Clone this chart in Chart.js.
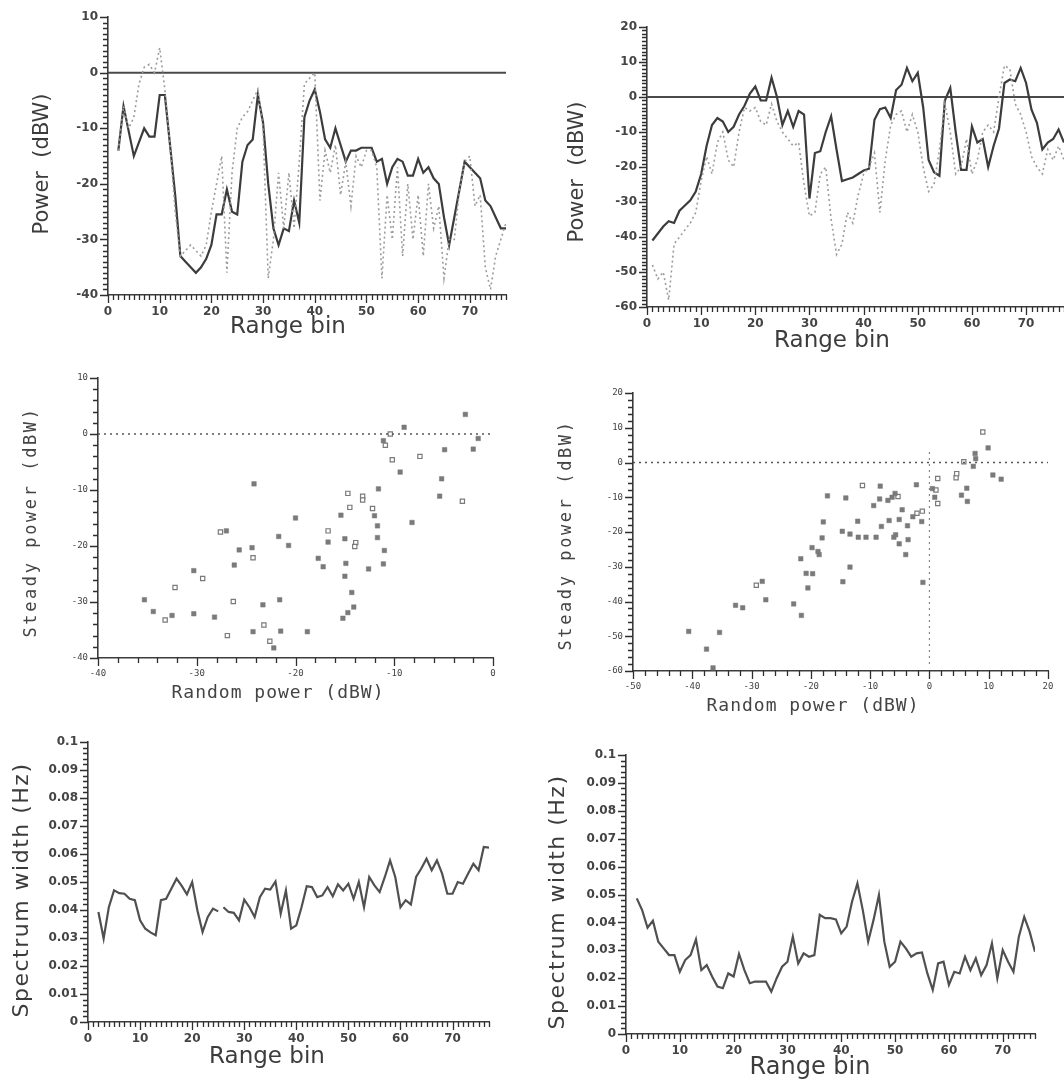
<!DOCTYPE html>
<html>
<head>
<meta charset="utf-8">
<script src="https://cdn.jsdelivr.net/npm/chart.js@4.4.1/dist/chart.umd.min.js"></script>
<style>
body { margin: 0; background: #fff; width: 1064px; height: 1088px; position: relative; overflow: hidden; }
canvas { position: absolute; }
</style>
</head>
<body>
<canvas id="c1" width="530" height="350" style="left:0px;top:0px"></canvas>
<canvas id="c2" width="546" height="362" style="left:530px;top:0px"></canvas>
<canvas id="c3" width="530" height="365" style="left:0px;top:345px"></canvas>
<canvas id="c4" width="534" height="370" style="left:530px;top:350px"></canvas>
<canvas id="c5" width="530" height="373" style="left:0px;top:715px"></canvas>
<canvas id="c6" width="534" height="356" style="left:530px;top:732px"></canvas>
<script>
let rangeBins = [1, 2, 3, 4, 5, 6, 7, 8, 9, 10, 11, 12, 13, 14, 15, 16, 17, 18, 19, 20,
  21, 22, 23, 24, 25, 26, 27, 28, 29, 30, 31, 32, 33, 34, 35, 36, 37, 38, 39, 40,
  41, 42, 43, 44, 45, 46, 47, 48, 49, 50, 51, 52, 53, 54, 55, 56, 57, 58, 59, 60,
  61, 62, 63, 64, 65, 66, 67, 68, 69, 70, 71, 72, 73, 74, 75, 76, 77];

// top left: power per range bin (dBW)
let p1Solid = [null, -14, -6, -10.5, -15, -12.5, -10, -11.5, -11.5, -4, -4, -13, -22, -33, -34, -35, -36, -35, -33.5, -31,
  -25.5, -25.5, -21, -25, -25.5, -16, -13, -12, -4, -9, -20, -28, -31, -28, -28.5, -23, -27, -8, -5, -3,
  -7, -12, -13.5, -10, -13, -16, -14, -14, -13.5, -13.5, -13.5, -16, -15.5, -20, -17, -15.5, -16, -18.5, -18.5, -15.5,
  -18, -17, -19, -20, -26, -31, -26, -21, -16, -17, -18, -19, -23, -24, -26, -28, -28];
let p1Dotted = [null, -14, -6, -10, -8, -2, 1, 1.5, 0, 4.5, -3, -13, -25, -33, -32, -31, -32, -33, -31, -25,
  -20, -15, -36, -18, -10, -8, -7, -5, -3, -10, -37, -30, -18, -28, -18, -28, -16, -2, -1, 0,
  -23, -14, -18, -13, -22, -16, -24, -15, -17, -14, -14, -17, -37, -22, -30, -17, -33, -20, -30, -22,
  -33, -20, -28, -24, -37, -30, -30, -21, -16, -15, -24, -22, -35, -39, -33, -30, -27];

// top right
let p2Solid = [-41, -39, -37, -35.5, -36, -32.5, -31, -29.5, -27, -22, -14, -8, -6, -7, -10, -8.5, -5, -2.5, 1, 3,
  -1, -1, 5.5, 0, -8, -4, -8.5, -4, -5, -29, -16, -15.5, -10, -5.5, -15, -24, -23.5, -23, -22, -21,
  -20.5, -6.5, -3.5, -3, -6, 2, 3.5, 8.3, 4.5, 6.9, -3, -18, -21.5, -22.5, -1, 2.6, -10, -20.8, -20.8, -8.4,
  -13, -12, -20, -14, -9, 4, 5, 4.5, 8.3, 4, -3.6, -7.4, -15, -13, -12, -9.3, -13];
let p2Dotted = [-48, -52, -50, -58, -42, -40, -38, -36, -33, -24, -17, -22, -13, -10, -18, -20, -10, -3, -4, -3,
  -7, -8, -2, -7, -10, -12, -14, -13, -25, -34, -33, -22, -20, -35, -45, -42, -33, -36, -28, -22,
  -20, -16, -33, -18, -8, -5, -4, -10, -5, -10, -20, -27, -25, -15, -2, -10, -22, -20, -12, -22,
  -18, -10, -8, -10, 0, 9, 8, -2, -5, -10, -17, -20, -22, -15, -18, -14, -18];

// middle left: steady vs random power
let p3FilledX = [-35.3, -34.4, -32.5, -30.3, -30.3, -28.2, -27.0, -26.2, -25.7, -24.4, -24.2, -24.3, -23.3, -22.2, -21.7, -21.6,
  -21.5, -20.7, -20.0, -18.8, -17.7, -17.2, -16.7, -15.4, -15.2, -15.0, -15.0, -14.9, -14.7, -14.3, -14.1, -12.6,
  -12.0, -11.7, -11.7, -11.6, -11.1, -11.0, -11.1, -9.4, -9.0, -8.2, -5.4, -5.2, -4.9, -2.8, -2.0, -1.5];
let p3FilledY = [-29.6, -31.7, -32.4, -24.4, -32.1, -32.7, -17.3, -23.4, -20.7, -20.3, -8.9, -35.3, -30.5, -38.2, -18.3, -29.6,
  -35.2, -19.9, -15.0, -35.3, -22.2, -23.7, -19.3, -14.5, -32.9, -18.7, -25.4, -23.1, -31.9, -28.3, -30.9, -24.1,
  -14.6, -16.4, -18.5, -9.8, -23.2, -20.8, -1.2, -6.8, 1.2, -15.8, -11.1, -8.0, -2.8, 3.5, -2.7, -0.8];
let p3OpenX = [-33.2, -32.2, -29.4, -27.6, -26.9, -26.3, -24.3, -23.2, -22.6, -16.7, -14.7, -14.5, -13.9, -14.0, -13.2, -13.2,
  -12.2, -10.9, -10.4, -10.2, -7.4, -3.1];
let p3OpenY = [-33.2, -27.4, -25.8, -17.5, -36.0, -29.9, -22.1, -34.1, -37.0, -17.3, -10.6, -13.1, -19.4, -20.1, -11.1, -11.8,
  -13.3, -2.0, 0.0, -4.6, -4.0, -12.0];

// middle right
let p4FilledX = [-40.6, -37.6, -36.5, -35.4, -32.7, -31.5, -28.2, -27.6, -22.9, -21.7, -21.6, -20.8, -20.5, -19.8, -19.7, -18.8,
  -18.6, -18.1, -17.9, -17.2, -14.7, -14.6, -14.1, -13.4, -13.4, -12.1, -12.0, -10.7, -9.4, -9.0, -8.4, -8.3,
  -8.1, -7.0, -6.8, -6.3, -6.0, -5.8, -5.7, -5.1, -5.1, -4.6, -4.0, -3.7, -3.6, -2.8, -2.2, -1.3,
  -1.1, 0.5, 0.9, 5.4, 6.3, 6.4, 7.4, 7.7, 7.8, 9.9, 10.7, 12.1];
let p4FilledY = [-48.6, -53.7, -59.1, -48.9, -41.1, -41.8, -34.2, -39.5, -40.7, -27.7, -44.0, -31.9, -36.1, -24.5, -32.0, -25.6,
  -26.5, -21.7, -17.1, -9.6, -19.8, -34.3, -10.2, -20.6, -30.1, -16.9, -21.5, -21.5, -12.4, -21.5, -10.5, -6.8,
  -18.4, -10.9, -16.7, -10.0, -21.5, -8.9, -20.8, -23.4, -16.4, -13.6, -26.5, -18.2, -22.2, -15.6, -6.4, -17.0,
  -34.5, -7.5, -10.0, -9.4, -7.4, -11.2, -1.1, 2.6, 1.1, 4.2, -3.6, -4.8];
let p4OpenX = [-29.2, -11.3, -5.3, -2.1, -1.2, 1.1, 1.4, 1.4, 4.5, 4.6, 5.8, 9.0];
let p4OpenY = [-35.3, -6.6, -9.8, -14.6, -14.0, -7.9, -4.6, -11.8, -4.4, -3.2, 0.2, 8.8];
let p4VertLine = [-58, 3];

// bottom: spectrum width per range bin (Hz)
let p5Width = [null, 0.0393, 0.0298, 0.041, 0.047, 0.046, 0.0458, 0.044, 0.0435, 0.0363, 0.0333, 0.032, 0.031, 0.0435, 0.044, 0.0476,
  0.0512, 0.0486, 0.0456, 0.05, 0.0399, 0.0321, 0.0375, 0.0405, 0.0395,
  0.041, 0.0393, 0.039, 0.0363, 0.0437, 0.041, 0.0375, 0.0446, 0.0476, 0.0473, 0.0502, 0.0387, 0.047, 0.0333, 0.0345,
  0.041, 0.0485, 0.0482, 0.0446, 0.0452, 0.0482, 0.0449, 0.0492, 0.047, 0.0494, 0.044, 0.05, 0.041, 0.0518, 0.0488,
  0.0464, 0.0518, 0.0577, 0.0518, 0.041, 0.0435, 0.042, 0.0518, 0.0548, 0.0583, 0.0542, 0.0577, 0.053, 0.0458, 0.0458,
  0.05, 0.0494, 0.053, 0.0565, 0.0542, 0.0625, 0.0623];
let p5GapAfter = 25;
let p6Width = [null, 0.0486, 0.0444, 0.0381, 0.0406, 0.0331, 0.0307, 0.0283, 0.0283, 0.0223, 0.0265,
  0.0283, 0.0339, 0.0229, 0.0247, 0.0206, 0.017, 0.0164, 0.0217, 0.0206, 0.0287,
  0.0229, 0.0182, 0.0188, 0.0188, 0.0188, 0.0152, 0.02, 0.0241, 0.0259, 0.0349,
  0.0253, 0.0289, 0.0277, 0.0283, 0.0427, 0.0415, 0.0415, 0.0411, 0.0361, 0.0385,
  0.0474, 0.054, 0.0444, 0.0331, 0.0409, 0.0498, 0.0331, 0.0241, 0.0259, 0.0331,
  0.0307, 0.0277, 0.0289, 0.0292, 0.0217, 0.0158, 0.0253, 0.0259, 0.0176, 0.0223,
  0.0217, 0.0277, 0.0229, 0.0271, 0.0211, 0.0247, 0.0325, 0.02, 0.0301, 0.0259,
  0.0223, 0.0349, 0.042, 0.0367, 0.0295, null];

Chart.defaults.font.family = 'DejaVu Sans';
Chart.defaults.color = '#444';

const INK = '#3c3c3c';

// axis titles, plus the comb of small tick marks along each axis
const axisText = {
  id: 'axisText',
  afterDraw(chart, args, opts) {
    const ctx = chart.ctx;
    Object.keys(opts.combs || {}).forEach(id => {
      const s = chart.scales[id];
      const [step, every] = opts.combs[id];
      const n = Math.round((s.max - s.min) / step);
      const k = Math.round(every / step);
      ctx.save();
      ctx.strokeStyle = '#2e2e2e';
      ctx.lineWidth = 1.3;
      ctx.beginPath();
      for (let i = 0; i <= n; i++) {
        const len = i % k === 0 ? 8 : 5;
        const p = Math.round(s.getPixelForValue(s.min + i * step)) + 0.5;
        if (s.isHorizontal()) {
          ctx.moveTo(p, s.top);
          ctx.lineTo(p, s.top + len);
        } else {
          ctx.moveTo(s.right - len, p);
          ctx.lineTo(s.right, p);
        }
      }
      ctx.stroke();
      ctx.restore();
    });
    (opts.items || []).forEach(t => {
      ctx.save();
      ctx.translate(t.x, t.y);
      if (t.rotate) ctx.rotate(-Math.PI / 2);
      ctx.font = t.font;
      ctx.fillStyle = t.color || INK;
      ctx.letterSpacing = (t.spacing || 0) + 'px';
      ctx.textAlign = 'center';
      ctx.textBaseline = 'middle';
      ctx.fillText(t.text, 0, 0);
      ctx.restore();
    });
  }
};

function pts(xs, ys) {
  return xs.map((x, i) => ({ x: x, y: ys[i] }));
}

function axis(min, max, every, fmt, font, size, horizontal) {
  return {
    type: 'linear', min: min, max: max,
    afterFit: s => { if (horizontal) s.height = size; else s.width = size; },
    border: { display: true, color: INK, width: 1.6 },
    grid: { drawOnChartArea: false, drawTicks: false },
    ticks: {
      stepSize: every, includeBounds: false, autoSkip: false, maxRotation: 0, minRotation: 0, padding: 10,
      font: font, color: '#444',
      callback: v => (Math.abs(v / every - Math.round(v / every)) < 1e-6 ? fmt(v) : '')
    }
  };
}

function makeChart(id, canvasBox, plot, xAxis, yAxis, datasets, combs, texts) {
  return new Chart(document.getElementById(id).getContext('2d'), {
    type: 'line',
    data: { datasets: datasets },
    options: {
      responsive: false,
      animation: false,
      events: [],
      layout: { padding: { left: 0, bottom: 0, top: plot.t - canvasBox.t, right: canvasBox.l + canvasBox.w - plot.r } },
      plugins: { legend: { display: false }, tooltip: { enabled: false }, axisText: { combs: combs, items: texts } },
      scales: { x: xAxis, y: yAxis }
    },
    plugins: [axisText]
  });
}

const boldTick = { size: 12, weight: 'bold' };
const monoTick = { family: 'DejaVu Sans Mono', size: 9 };
const plain = v => String(v);
const hz = v => String(+v.toFixed(2));

function solidLine(data, color, width) {
  return { data: data, borderColor: color, borderWidth: width, pointRadius: 0, tension: 0, spanGaps: false };
}
function dottedLine(data) {
  return { data: data, borderColor: '#9c9c9c', borderWidth: 1.6, borderDash: [2, 3], pointRadius: 0, tension: 0 };
}
function dots(data, open) {
  return {
    data: data, showLine: false, pointStyle: 'rect',
    pointRadius: open ? 3 : 3.2,
    pointBackgroundColor: open ? '#ffffff' : '#7a7a7a',
    pointBorderColor: '#7a7a7a',
    pointBorderWidth: open ? 1.2 : 0.5
  };
}

// panel 1
makeChart('c1', { l: 0, t: 0, w: 530 }, { l: 108, r: 506, t: 15, b: 295 },
  axis(0, 77, 10, plain, boldTick, 55, true),
  axis(-40, 10, 10, plain, boldTick, 108, false),
  [
    dottedLine(pts(rangeBins, p1Dotted)),
    solidLine(pts(rangeBins, p1Solid), INK, 2.2),
    solidLine(pts([0, 77], [0, 0]), '#4a4a4a', 1.8)
  ],
  { x: [1, 10], y: [1, 10] },
  [
    { text: 'Power  (dBW)', x: 43, y: 164, rotate: true, font: '21px DejaVu Sans' },
    { text: 'Range bin', x: 288, y: 327, font: '23px DejaVu Sans' }
  ]);

// panel 2 (runs off the right edge of the page)
makeChart('c2', { l: 530, t: 0, w: 546 }, { l: 647, r: 1064, t: 27, b: 307 },
  axis(0, 77, 10, plain, boldTick, 55, true),
  axis(-60, 20, 10, plain, boldTick, 117, false),
  [
    dottedLine(pts(rangeBins, p2Dotted)),
    solidLine(pts(rangeBins, p2Solid), INK, 2.2),
    solidLine(pts([0, 77], [0, 0]), '#4a4a4a', 1.8)
  ],
  { x: [1, 10], y: [1, 10] },
  [
    { text: 'Power  (dBW)', x: 48, y: 172, rotate: true, font: '21px DejaVu Sans' },
    { text: 'Range bin', x: 302, y: 341, font: '23px DejaVu Sans' }
  ]);

// panel 3
makeChart('c3', { l: 0, t: 345, w: 530 }, { l: 98, r: 493, t: 378, b: 658 },
  axis(-40, 0, 10, plain, monoTick, 52, true),
  axis(-40, 10, 10, plain, monoTick, 98, false),
  [
    { data: pts([-40, 0], [0, 0]), borderColor: '#555', borderWidth: 1.4, borderDash: [2, 4], pointRadius: 0 },
    dots(pts(p3FilledX, p3FilledY), false),
    dots(pts(p3OpenX, p3OpenY), true)
  ],
  { x: [2, 10], y: [2, 10] },
  [
    { text: 'Steady power (dBW)', x: 32, y: 177, rotate: true, font: '17px DejaVu Sans Mono', spacing: 2.6, color: '#444' },
    { text: 'Random power (dBW)', x: 278, y: 348, font: '18px DejaVu Sans Mono', spacing: 1, color: '#444' }
  ]);

// panel 4
makeChart('c4', { l: 530, t: 350, w: 534 }, { l: 633, r: 1048, t: 393, b: 671 },
  axis(-50, 20, 10, plain, monoTick, 49, true),
  axis(-60, 20, 10, plain, monoTick, 103, false),
  [
    { data: pts([-50, 20], [0, 0]), borderColor: '#555', borderWidth: 1.4, borderDash: [2, 4], pointRadius: 0 },
    { data: pts([0, 0], p4VertLine), borderColor: '#888', borderWidth: 1.2, borderDash: [2, 4], pointRadius: 0 },
    dots(pts(p4FilledX, p4FilledY), false),
    dots(pts(p4OpenX, p4OpenY), true)
  ],
  { x: [2, 10], y: [2, 10] },
  [
    { text: 'Steady power (dBW)', x: 37, y: 185, rotate: true, font: '17px DejaVu Sans Mono', spacing: 2.6, color: '#444' },
    { text: 'Random power (dBW)', x: 283, y: 356, font: '18px DejaVu Sans Mono', spacing: 1, color: '#444' }
  ]);

// panel 5
let p5Line = solidLine(pts(rangeBins, p5Width), '#505050', 2.2);
p5Line.segment = { borderColor: c => (c.p0.parsed.x === p5GapAfter ? 'rgba(0,0,0,0)' : undefined) };
makeChart('c5', { l: 0, t: 715, w: 530 }, { l: 88, r: 489, t: 742, b: 1022 },
  axis(0, 77, 10, plain, boldTick, 66, true),
  axis(0, 0.1, 0.01, hz, boldTick, 88, false),
  [p5Line],
  { x: [1, 10], y: [0.002, 0.01] },
  [
    { text: 'Spectrum width (Hz)', x: 22, y: 175, rotate: true, font: '22px DejaVu Sans', spacing: 1.5 },
    { text: 'Range bin', x: 267, y: 342, font: '23px DejaVu Sans' }
  ]);

// panel 6
makeChart('c6', { l: 530, t: 732, w: 534 }, { l: 626, r: 1035, t: 755, b: 1034 },
  axis(0, 76, 10, plain, boldTick, 54, true),
  axis(0, 0.1, 0.01, hz, boldTick, 96, false),
  [solidLine(pts(rangeBins, p6Width), '#505050', 2.2)],
  { x: [1, 10], y: [0.002, 0.01] },
  [
    { text: 'Spectrum width (Hz)', x: 28, y: 170, rotate: true, font: '22px DejaVu Sans', spacing: 1.5 },
    { text: 'Range bin', x: 280, y: 336, font: '24px DejaVu Sans' }
  ]);
</script>
</body>
</html>
